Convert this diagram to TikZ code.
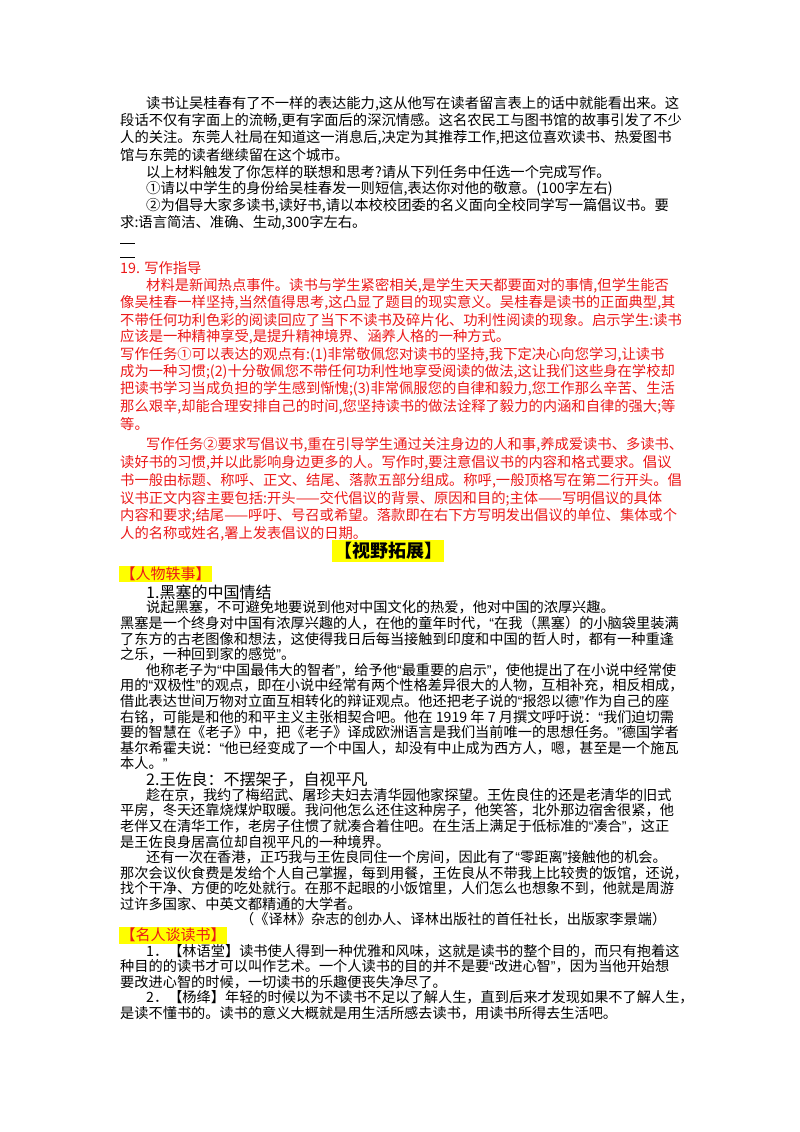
\documentclass[tikz,border=0pt]{standalone}
\usepackage{fontspec}
\newfontfamily\cjk{Noto Sans CJK SC}
\newfontfamily\latq{Liberation Sans}
\newcommand\oq{{\latq “}}
\newcommand\cq{{\latq ”}}
\definecolor{rd}{RGB}{235,25,25}
\definecolor{yl}{RGB}{255,255,0}
\begin{document}
\begin{tikzpicture}[x=1pt,y=1pt,
  tb/.style={anchor=west,inner sep=0pt,font=\cjk\fontsize{14.3}{16}\selectfont},
  rl/.style={tb,text=rd},
  lb/.style={anchor=west,inner sep=0pt,font=\cjk\fontsize{14.2}{16}\selectfont},
  hd/.style={anchor=west,inner sep=0pt,font=\cjk\fontsize{16}{18}\selectfont},
  ybox/.style={anchor=west,fill=yl,inner sep=1.5pt,font=\cjk\fontsize{15}{17}\selectfont}]
\useasboundingbox (0,0) rectangle (800,-1132);
% top block
\node[tb] (t1) at (146,-104) {读书让吴桂春有了不一样的表达能力,这从他写在读者留言表上的话中就能看出来。这};
\node[tb] (t2) at (120,-121) {段话不仅有字面上的流畅,更有字面后的深沉情感。这名农民工与图书馆的故事引发了不少};
\node[tb] (t3) at (120,-138) {人的关注。东莞人社局在知道这一消息后,决定为其推荐工作,把这位喜欢读书、热爱图书};
\node[tb] (t4) at (120,-155) {馆与东莞的读者继续留在这个城市。};
\node[tb] (t5) at (146,-172) {以上材料触发了你怎样的联想和思考?请从下列任务中任选一个完成写作。};
\node[tb] (t6) at (146,-189) {①请以中学生的身份给吴桂春发一则短信,表达你对他的敬意。(100字左右)};
\node[tb] (t7) at (146,-206) {②为倡导大家多读书,读好书,请以本校校团委的名义面向全校同学写一篇倡议书。要};
\node[tb] (t8) at (120,-223) {求:语言简洁、准确、生动,300字左右。};
\coordinate (d1a) at (120,-243); \coordinate (d1b) at (135,-243);
\coordinate (d2a) at (120,-257); \coordinate (d2b) at (135,-257);
\draw[line width=0.8pt] (d1a) -- (d1b);
\draw[line width=0.8pt] (d2a) -- (d2b);
% red block
\node[rl] (r0) at (120,-268) {19. 写作指导};
\node[rl] (r1) at (146,-285.3) {材料是新闻热点事件。读书与学生紧密相关,是学生天天都要面对的事情,但学生能否};
\node[rl] (r2) at (120,-302.6) {像吴桂春一样坚持,当然值得思考,这凸显了题目的现实意义。吴桂春是读书的正面典型,其};
\node[rl] (r3) at (120,-319.9) {不带任何功利色彩的阅读回应了当下不读书及碎片化、功利性阅读的现象。启示学生:读书};
\node[rl] (r4) at (120,-337.2) {应该是一种精神享受,是提升精神境界、涵养人格的一种方式。};
\node[rl] (r5) at (120,-354.5) {写作任务①可以表达的观点有:(1)非常敬佩您对读书的坚持,我下定决心向您学习,让读书};
\node[rl] (r6) at (120,-371.8) {成为一种习惯;(2)十分敬佩您不带任何功利性地享受阅读的做法,这让我们这些身在学校却};
\node[rl] (r7) at (120,-389.1) {把读书学习当成负担的学生感到惭愧;(3)非常佩服您的自律和毅力,您工作那么辛苦、生活};
\node[rl] (r8) at (120,-406.4) {那么艰辛,却能合理安排自己的时间,您坚持读书的做法诠释了毅力的内涵和自律的强大;等};
\node[rl] (r9) at (120,-423.7) {等。};
\node[rl] (r10) at (146,-445) {写作任务②要求写倡议书,重在引导学生通过关注身边的人和事,养成爱读书、多读书、};
\node[rl] (r11) at (120,-462.8) {读好书的习惯,并以此影响身边更多的人。写作时,要注意倡议书的内容和格式要求。倡议};
\node[rl] (r12) at (120,-480.6) {书一般由标题、称呼、正文、结尾、落款五部分组成。称呼,一般顶格写在第二行开头。倡};
\node[rl] (r13) at (120,-498.4) {议书正文内容主要包括:开头——交代倡议的背景、原因和目的;主体——写明倡议的具体};
\node[rl] (r14) at (120,-516.2) {内容和要求;结尾——呼吁、号召或希望。落款即在右下方写明发出倡议的单位、集体或个};
\node[rl] (r15) at (120,-534) {人的名称或姓名,署上发表倡议的日期。};
% headings
\node[fill=yl,inner sep=2pt,font=\cjk\fontsize{18}{20}\selectfont\bfseries] (h0) at (388,-551) {【视野拓展】};
\node[ybox,text=rd] (h1) at (119,-574) {【人物轶事】};
% lower block
\node[hd] (b0) at (146,-592) {1.黑塞的中国情结};
\node[lb] (b1) at (146,-607.6) {说起黑塞，不可避免地要说到他对中国文化的热爱，他对中国的浓厚兴趣。};
\node[lb] (b2) at (120,-623.2) {黑塞是一个终身对中国有浓厚兴趣的人，在他的童年时代，\oq 在我（黑塞）的小脑袋里装满};
\node[lb] (b3) at (120,-638.8) {了东方的古老图像和想法，这使得我日后每当接触到印度和中国的哲人时，都有一种重逢};
\node[lb] (b4) at (120,-654.4) {之乐，一种回到家的感觉\cq 。};
\node[lb] (b5) at (146,-670) {他称老子为\oq 中国最伟大的智者\cq ，给予他\oq 最重要的启示\cq ，使他提出了在小说中经常使};
\node[lb] (b6) at (120,-685.6) {用的\oq 双极性\cq 的观点，即在小说中经常有两个性格差异很大的人物，互相补充，相反相成，};
\node[lb] (b7) at (120,-701.2) {借此表达世间万物对立面互相转化的辩证观点。他还把老子说的\oq 报怨以德\cq 作为自己的座};
\node[lb] (b8) at (120,-716.8) {右铭，可能是和他的和平主义主张相契合吧。他在 1919 年 7 月撰文呼吁说：\oq 我们迫切需};
\node[lb] (b9) at (120,-732.4) {要的智慧在《老子》中，把《老子》译成欧洲语言是我们当前唯一的思想任务。\cq 德国学者};
\node[lb] (b10) at (120,-748) {基尔希霍夫说：\oq 他已经变成了一个中国人，却没有中止成为西方人，嗯，甚至是一个施瓦};
\node[lb] (b11) at (120,-763.6) {本人。\cq};
\node[hd] (b12) at (146,-779.2) {2.王佐良：不摆架子，自视平凡};
\node[lb] (b13) at (146,-794.8) {趁在京，我约了梅绍武、屠珍夫妇去清华园他家探望。王佐良住的还是老清华的旧式};
\node[lb] (b14) at (120,-810.4) {平房，冬天还靠烧煤炉取暖。我问他怎么还住这种房子，他笑答，北外那边宿舍很紧，他};
\node[lb] (b15) at (120,-826) {老伴又在清华工作，老房子住惯了就凑合着住吧。在生活上满足于低标准的\oq 凑合\cq ，这正};
\node[lb] (b16) at (120,-841.6) {是王佐良身居高位却自视平凡的一种境界。};
\node[lb] (b17) at (146,-857.2) {还有一次在香港，正巧我与王佐良同住一个房间，因此有了\oq 零距离\cq 接触他的机会。};
\node[lb] (b18) at (120,-872.8) {那次会议伙食费是发给个人自己掌握，每到用餐，王佐良从不带我上比较贵的饭馆，还说，};
\node[lb] (b19) at (120,-888.4) {找个干净、方便的吃处就行。在那不起眼的小饭馆里，人们怎么也想象不到，他就是周游};
\node[lb] (b20) at (120,-904) {过许多国家、中英文都精通的大学者。};
\node[lb] (b21) at (240,-919.6) {（《译林》杂志的创办人、译林出版社的首任社长，出版家李景端）};
\node[ybox,text=rd] (h2) at (119,-935.2) {【名人谈读书】};
\node[lb] (b23) at (146,-950.8) {1．【林语堂】读书使人得到一种优雅和风味，这就是读书的整个目的，而只有抱着这};
\node[lb] (b24) at (120,-966.4) {种目的的读书才可以叫作艺术。一个人读书的目的并不是要\oq 改进心智\cq ，因为当他开始想};
\node[lb] (b25) at (120,-982) {要改进心智的时候，一切读书的乐趣便丧失净尽了。};
\node[lb] (b26) at (146,-997.6) {2．【杨绛】年轻的时候以为不读书不足以了解人生，直到后来才发现如果不了解人生，};
\node[lb] (b27) at (120,-1013.2) {是读不懂书的。读书的意义大概就是用生活所感去读书，用读书所得去生活吧。};
\end{tikzpicture}
\end{document}
